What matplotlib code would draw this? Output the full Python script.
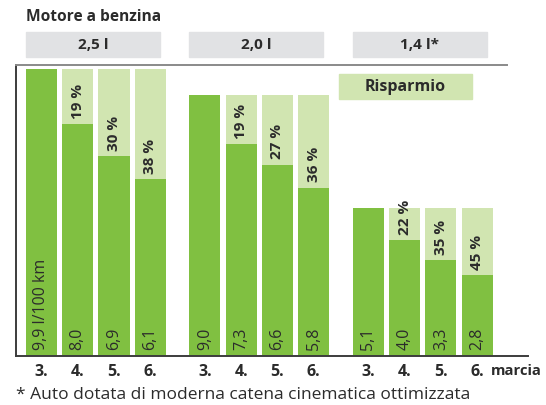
import numpy as np
import matplotlib
matplotlib.use("Agg")
import matplotlib.pyplot as plt
from matplotlib.patches import Rectangle

plt.rcParams['font.family'] = ['Open Sans', 'DejaVu Sans']

engines = ["2,5 l", "2,0 l", "1,4 l*"]
gears = ["3.", "4.", "5.", "6."]
consumption = [
    [9.9, 8.0, 6.9, 6.1],
    [9.0, 7.3, 6.6, 5.8],
    [5.1, 4.0, 3.3, 2.8],
]
savings = [
    [None, 19, 30, 38],
    [None, 19, 27, 36],
    [None, 22, 35, 45],
]

DARK = "#80c041"
LIGHT = "#d1e5b1"
GREY = "#e1e2e4"
TXT = "#2b2b2b"

fig = plt.figure(figsize=(5.46, 4.06), dpi=100)
ax = fig.add_axes([16 / 546, 49 / 406, 512 / 546, 291 / 406])

GROUP_STEP = 4.5
WIDTH = 0.86
ticks, ticklabels = [], []
for g, vals in enumerate(consumption):
    ref = vals[0]
    xs = g * GROUP_STEP + np.arange(len(vals))
    # light bar = full reference height, dark bar = actual consumption
    ax.bar(xs[1:], [ref] * (len(vals) - 1), width=WIDTH, color=LIGHT, zorder=1)
    ax.bar(xs, vals, width=WIDTH, color=DARK, zorder=2)
    for i, (x, v) in enumerate(zip(xs, vals)):
        lab = f"{v:.1f}".replace(".", ",")
        if g == 0 and i == 0:
            lab += " l/100 km"
        ax.annotate(lab, (x, 0), xytext=(0, 5), textcoords="offset points",
                    rotation=90, ha="center", va="bottom", fontsize=11.5,
                    color=TXT, zorder=3)
        s = savings[g][i]
        if s is not None:
            ax.annotate(f"{s} %", (x, v), xytext=(0, 4.5), textcoords="offset points",
                        rotation=90, ha="center", va="bottom", fontsize=11,
                        fontweight="bold", color=TXT, zorder=3,
                        annotation_clip=False)
    ticks.extend(xs)
    ticklabels.extend(gears)

    # engine header box
    x0 = g * GROUP_STEP - 0.43
    ax.add_patch(Rectangle((x0, 10.31), 3.69, 0.86, color=GREY,
                           clip_on=False, zorder=1))
    ax.text(x0 + 3.69 / 2, 10.74, engines[g], ha="center", va="center",
            fontsize=11, fontweight="bold", color=TXT, clip_on=False)

ax.set_xlim(-0.70, 13.40)
ax.set_ylim(0, 10.03)

ax.set_xticks(ticks)
ax.set_xticklabels(ticklabels, fontsize=11.5, fontweight="bold", color=TXT)
ax.tick_params(axis="x", length=0, pad=5)
ax.set_yticks([])
ax.annotate("marcia", (ticks[-1], 0), xytext=(10, -5.3), textcoords="offset points",
            ha="left", va="top", fontsize=10.6, fontweight="bold", color=TXT,
            annotation_clip=False)

for side in ["top", "right"]:
    ax.spines[side].set_visible(False)
for side in ["left", "bottom"]:
    ax.spines[side].set_color("#3c3c3c")
    ax.spines[side].set_linewidth(1.4)
ax.plot([-0.70, 12.82], [10.03, 10.03], color="#8a8a8a", lw=1.4,
        clip_on=False, zorder=4)

# legend box
ax.add_patch(Rectangle((8.20, 8.86), 3.66, 0.86, color=LIGHT, zorder=1))
ax.text(8.20 + 3.66 / 2, 9.29, "Risparmio", ha="center", va="center",
        fontsize=11.5, fontweight="bold", color=TXT)

fig.text(26 / 546, 1 - 17 / 406, "Motore a benzina", ha="left", va="center",
         fontsize=11.2, fontweight="bold", color=TXT)
fig.text(16 / 546, 1 - 395 / 406,
         "* Auto dotata di moderna catena cinematica ottimizzata",
         ha="left", va="center", fontsize=12.5, color=TXT)

fig.savefig("out.png", dpi=100)
